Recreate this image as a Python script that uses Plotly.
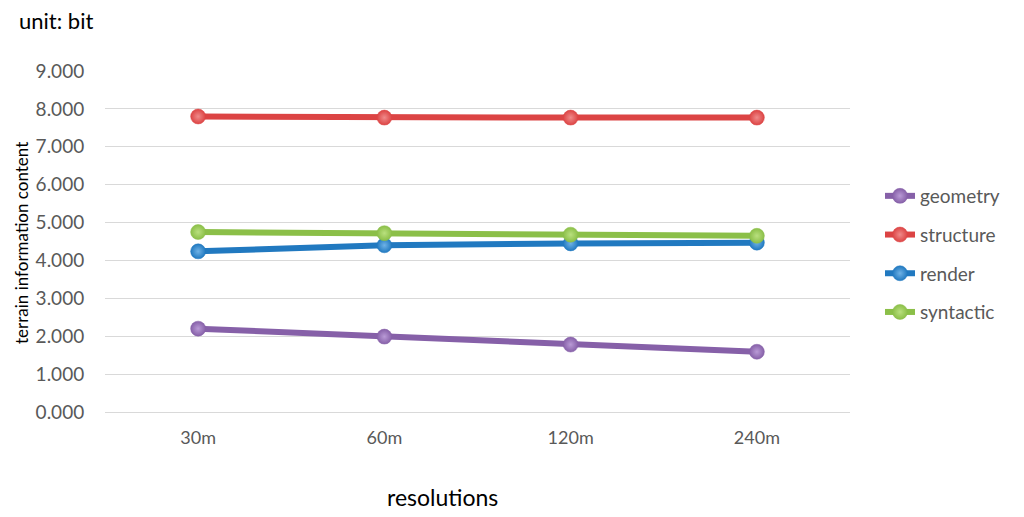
import plotly.graph_objects as go

categories = ["30m", "60m", "120m", "240m"]
geometry = [2.20, 1.99, 1.78, 1.59]
structure = [7.80, 7.77, 7.77, 7.77]
render = [4.24, 4.40, 4.45, 4.47]
syntactic = [4.75, 4.72, 4.68, 4.65]
y_ticks = [0, 1, 2, 3, 4, 5, 6, 7, 8, 9]
y_tick_labels = ["0.000", "1.000", "2.000", "3.000", "4.000", "5.000", "6.000", "7.000", "8.000", "9.000"]

series = [
    ("geometry", geometry, "#8660A8", "#B99AD6"),
    ("structure", structure, "#DC4444", "#F08A8A"),
    ("render", render, "#2179C0", "#6FB2E6"),
    ("syntactic", syntactic, "#8BBF48", "#B9E07E"),
]

FONT = "Lato, 'Open Sans', sans-serif"

# plot area in page pixels (page has 8px body margin)
PX0, PW, PY0, PH = 105, 745, 71, 341


def px(page_x):
    return (page_x - PX0) / PW


def py(page_y):
    return 1 - (page_y - PY0) / PH


fig = go.Figure()
for i, (name, vals, col, light) in enumerate(series):
    fig.add_trace(go.Scatter(
        x=categories, y=vals, name=name, mode="lines+markers",
        legendgroup=f"g{i}",
        line=dict(color=col, width=6),
        marker=dict(size=15, color=col, symbol="circle",
                    gradient=dict(type="radial", color=light),
                    line=dict(width=0.5, color=col)),
    ))

fig.update_layout(
    width=1016, height=509,
    margin=dict(l=97, r=174, t=63, b=105),
    paper_bgcolor="white", plot_bgcolor="white",
    font=dict(family=FONT, color="#595959", size=18),
    showlegend=True,
    legend=dict(x=px(880), y=py(177), xanchor="left", yanchor="top",
                font=dict(size=19, color="#595959"),
                tracegroupgap=11,
                bgcolor="rgba(0,0,0,0)"),
    xaxis=dict(type="category", range=[-0.5, 3.5], showgrid=False,
               showline=True, linecolor="#D9D9D9", linewidth=1,
               ticks="outside", ticklen=9, tickcolor="rgba(0,0,0,0)",
               tickfont=dict(size=18, color="#595959")),
    yaxis=dict(range=[0, 9], tickvals=y_ticks, ticktext=y_tick_labels,
               showgrid=True, gridcolor="#D9D9D9", gridwidth=1,
               zeroline=False, showline=False,
               ticks="outside", ticklen=16, tickcolor="rgba(0,0,0,0)",
               tickfont=dict(size=19, color="#595959")),
)

fig.add_annotation(text="unit: bit", xref="paper", yref="paper",
                   x=px(17), y=py(21), xanchor="left", yanchor="middle",
                   showarrow=False, font=dict(size=22, color="#000000", family=FONT))
fig.add_annotation(text="resolutions", xref="paper", yref="paper",
                   x=px(442), y=py(497), xanchor="center", yanchor="middle",
                   showarrow=False, font=dict(size=23, color="#000000", family=FONT))
fig.add_annotation(text="terrain information content", xref="paper", yref="paper",
                   x=px(21), y=py(243), xanchor="center", yanchor="middle",
                   textangle=-90,
                   showarrow=False, font=dict(size=17, color="#000000", family=FONT))

fig.write_html("out.html")
